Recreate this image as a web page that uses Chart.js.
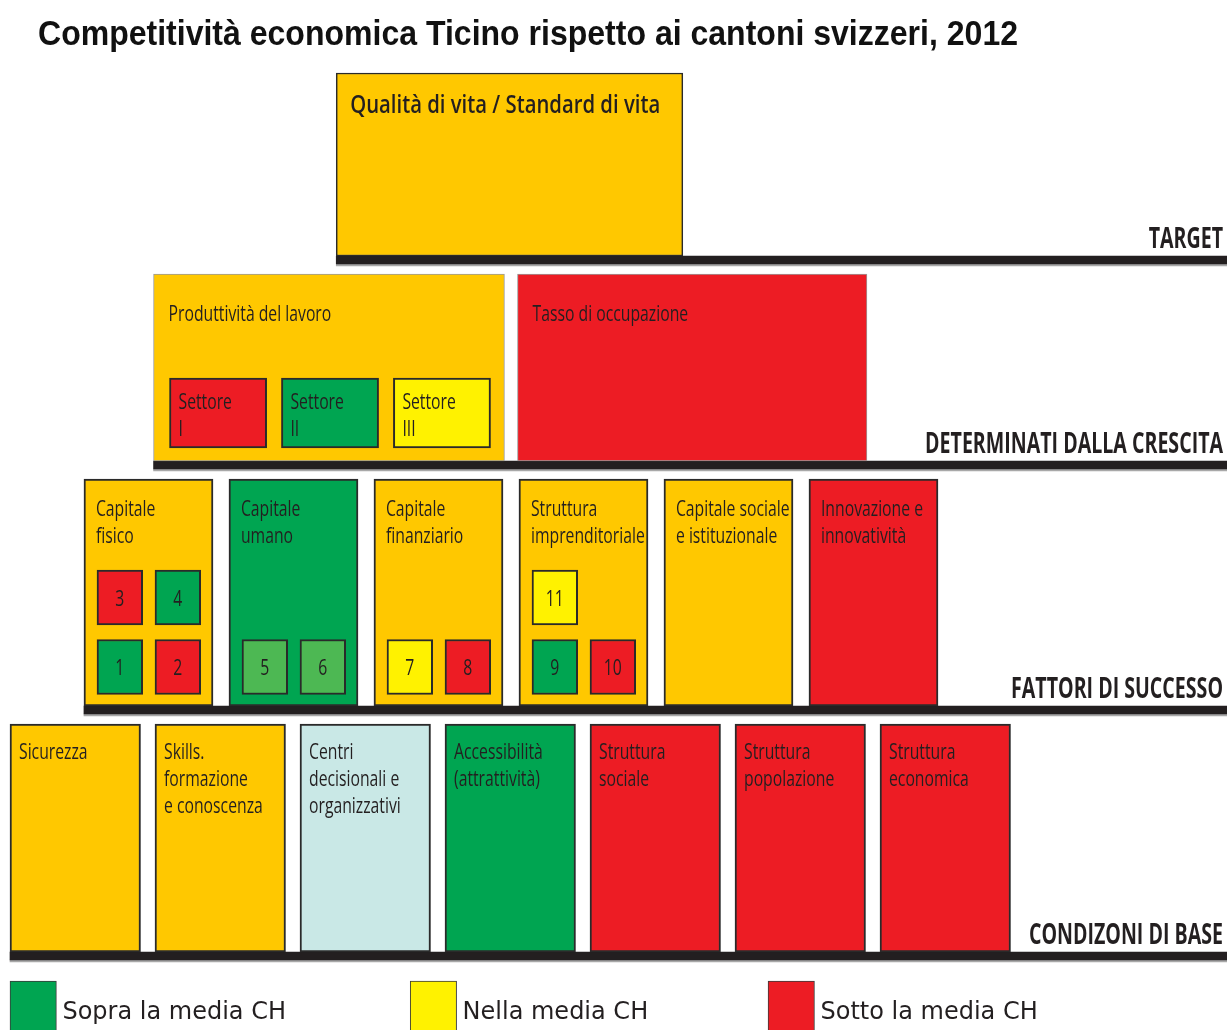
<!DOCTYPE html>
<html><head><meta charset="utf-8">
<script src="https://cdn.jsdelivr.net/npm/chart.js@4.4.1/dist/chart.umd.min.js"></script>
<style>html,body{margin:0;padding:0;background:#fff}#wrap{width:1227px;height:1030px;position:relative}</style>
</head><body><div id="wrap"><canvas id="c"></canvas></div>
<script>
// ---------------- DATA ----------------
const chartTitle = 'Competitività economica Ticino rispetto ai cantoni svizzeri, 2012';
const levelNames = ['TARGET', 'DETERMINATI DALLA CRESCITA', 'FATTORI DI SUCCESSO', 'CONDIZONI DI BASE'];
const targetLabels = [['Qualità di vita / Standard di vita']];
const targetStatus = ['aggregato'];
const growthLabels = [['Produttività del lavoro'], ['Tasso di occupazione']];
const growthStatus = ['aggregato', 'sotto'];
const sectorLabels = [['Settore', 'I'], ['Settore', 'II'], ['Settore', 'III']];
const sectorStatus = ['sotto', 'sopra', 'nella'];
const factorLabels = [['Capitale', 'fisico'], ['Capitale', 'umano'], ['Capitale', 'finanziario'],
  ['Struttura', 'imprenditoriale'], ['Capitale sociale', 'e istituzionale'], ['Innovazione e', 'innovatività']];
const factorStatus = ['aggregato', 'sopra', 'aggregato', 'aggregato', 'aggregato', 'sotto'];
const indicatorIds = ['1', '2', '3', '4', '5', '6', '7', '8', '9', '10', '11'];
const indicatorStatus = ['sopra', 'sotto', 'sotto', 'sopra', 'sopraChiaro', 'sopraChiaro', 'nella', 'sotto', 'sopra', 'sotto', 'nella'];
const indicatorFactor = [0, 0, 0, 0, 1, 1, 2, 2, 3, 3, 3];
const baseLabels = [['Sicurezza'], ['Skills.', 'formazione', 'e conoscenza'], ['Centri', 'decisionali e', 'organizzativi'],
  ['Accessibilità', '(attrattività)'], ['Struttura', 'sociale'], ['Struttura', 'popolazione'], ['Struttura', 'economica']];
const baseStatus = ['aggregato', 'aggregato', 'nd', 'sopra', 'sotto', 'sotto', 'sotto'];
const legendLabels = ['Sopra la media CH', 'Nella media CH', 'Sotto la media CH'];
const legendStatus = ['sopra', 'nella', 'sotto'];

// ---------------- STYLE ----------------
const statusColors = {
  aggregato: '#FFC800', sopra: '#00A551', sopraChiaro: '#4DB853', nella: '#FFF200',
  sotto: '#ED1C24', nd: '#C9E8E6'
};
const INK = '#231F20';

// ---------------- LAYOUT (slot units on x, layout units on y) ----------------
const PITCH = 145, ORIGIN = 10, W = 1227, H = 1030;
const X_MIN = -ORIGIN / PITCH, X_MAX = (W - ORIGIN) / PITCH;
const bands = { target: [73, 256], growth: [274, 461], sector: [378, 448], factor: [479, 706], base: [724, 952], legend: [981, 1040] };
const indicatorRowBand = [[570, 625], [640, 694]];
const lineBands = [[256, 264], [461, 469], [706, 714], [952, 960]];
const targetSpan = [[2.25, 4.64]];
const growthSpan = [[0.99, 3.41], [3.5, 5.91]];
const sectorStart = 1.1, sectorPitch = 0.772, sectorWidth = 0.67;
const factorStart = 0.51, factorWidth = 0.89;
const baseStart = 0, baseWidth = 0.9;
const indicatorCol = [0, 1, 0, 1, 0, 1, 0, 1, 0, 1, 0];
const indicatorRow = [1, 1, 0, 0, 1, 1, 1, 1, 1, 1, 0];
const indicatorColOffset = [0.09, 0.49], indicatorWidth = 0.315;
const legendStart = [0, 2.76, 5.228], legendWidth = 0.32;

const mid = b => (b[0] + b[1]) / 2;
const th = b => b[1] - b[0];

const targetSpans = targetSpan;
const growthSpans = growthSpan;
const sectorSpans = sectorLabels.map((_, i) => [sectorStart + i * sectorPitch, sectorStart + i * sectorPitch + sectorWidth]);
const factorSpans = factorLabels.map((_, i) => [factorStart + i, factorStart + i + factorWidth]);
const baseSpans = baseLabels.map((_, i) => [baseStart + i, baseStart + i + baseWidth]);
const indicatorSpans = indicatorIds.map((_, i) => {
  const s = factorSpans[indicatorFactor[i]][0] + indicatorColOffset[indicatorCol[i]];
  return [s, s + indicatorWidth];
});
const legendSpans = legendStart.map(s => [s, s + legendWidth]);
const lineStarts = [targetSpans[0][0], growthSpans[0][0], factorSpans[0][0], baseSpans[0][0]];

function boxDataset(label, spans, yBand, statuses, opts) {
  return Object.assign({
    label,
    data: spans.map(s => ({ x: s, y: mid(yBand) })),
    backgroundColor: statuses.map(s => statusColors[s]),
    barThickness: th(yBand),
    borderSkipped: false,
    borderWidth: 2,
    borderColor: '#2A2A2A',
    order: 1
  }, opts || {});
}

const datasets = [
  boxDataset('indicatori', indicatorSpans, [0, 0], indicatorStatus, { order: 0, barThickness: th(indicatorRowBand[0]),
    data: indicatorSpans.map((s, i) => ({ x: s, y: mid(indicatorRowBand[indicatorRow[i]]) })) }),
  boxDataset('settori', sectorSpans, bands.sector, sectorStatus, { order: 0 }),
  boxDataset('target', targetSpans, bands.target, targetStatus, { borderWidth: 1.5 }),
  boxDataset('determinanti', growthSpans, bands.growth, growthStatus, { borderWidth: 1, borderColor: '#9A9A9A' }),
  boxDataset('fattori', factorSpans, bands.factor, factorStatus),
  boxDataset('condizioni', baseSpans, bands.base, baseStatus),
  boxDataset('legenda', legendSpans, bands.legend, legendStatus, { borderWidth: 1, borderColor: '#3A3A3A' }),
  {
    label: 'livelli', order: 2, borderWidth: 0, barThickness: 8, backgroundColor: INK,
    data: lineBands.map((b, i) => ({ x: [lineStarts[i], X_MAX], y: mid(b) }))
  },
  {
    label: 'ombra', order: 3, borderWidth: 0, barThickness: 2, backgroundColor: '#A8A8A8',
    data: lineBands.map((b, i) => ({ x: [lineStarts[i], X_MAX], y: b[1] + 1 }))
  }
];

function drawText(ctx, text, x, y, font, cf, color, align) {
  ctx.save();
  ctx.font = font;
  ctx.fillStyle = color;
  ctx.textBaseline = 'alphabetic';
  ctx.textAlign = 'left';
  const w = ctx.measureText(text).width * cf;
  const x0 = align === 'right' ? x - w : align === 'center' ? x - w / 2 : x;
  ctx.translate(x0, y);
  ctx.scale(cf, 1);
  ctx.fillText(text, 0, 0);
  ctx.restore();
}

const BOX_FONT = '400 21px "Open Sans"';
const CF = 0.75;

const labelPlugin = {
  id: 'labels',
  afterDraw(chart) {
    const ctx = chart.ctx, xs = chart.scales.x, ys = chart.scales.y;
    const px = v => xs.getPixelForValue(v), py = v => ys.getPixelForValue(v);
    const block = (labels, spans, topOf, dx, dy, font, cf, lh) => {
      labels.forEach((lines, i) => {
        const left = px(spans[i][0]), top = py(topOf(i));
        lines.forEach((t, j) => drawText(ctx, t, left + dx, top + dy + j * lh, font, cf, INK, 'left'));
      });
    };
    // title
    ctx.save(); ctx.font = '700 35px "Liberation Sans"';
    const tw = ctx.measureText(chartTitle).width; ctx.restore();
    drawText(ctx, chartTitle, 38, 45, '700 35px "Liberation Sans"', 980 / tw, '#111', 'left');

    block(targetLabels, targetSpans, () => bands.target[0], 14, 40, '600 26px "Open Sans"', 0.78, 27);
    block(growthLabels, growthSpans, () => bands.growth[0], 15, 47, BOX_FONT, CF, 27);
    block(sectorLabels, sectorSpans, () => bands.sector[0], 9, 31, BOX_FONT, CF, 27);
    block(factorLabels, factorSpans, () => bands.factor[0], 12, 37, BOX_FONT, CF, 27);
    block(baseLabels, baseSpans, () => bands.base[0], 9, 35, BOX_FONT, CF, 27);

    indicatorIds.forEach((t, i) => {
      const cx = px(mid(indicatorSpans[i])), cy = py(mid(indicatorRowBand[indicatorRow[i]]));
      drawText(ctx, t, cx, cy + 8, BOX_FONT, CF, INK, 'center');
    });

    levelNames.forEach((t, i) => {
      drawText(ctx, t, px(X_MAX) - 4, py(lineBands[i][0]) - 8, '700 28px "Open Sans"', 0.7, INK, 'right');
    });

    legendLabels.forEach((t, i) => {
      drawText(ctx, t, px(legendSpans[i][1]) + 6, 1019, '400 24px "DejaVu Sans"', 1.0, INK, 'left');
    });
  }
};

new Chart(document.getElementById('c'), {
  type: 'bar',
  data: { datasets },
  options: {
    indexAxis: 'y',
    responsive: true,
    maintainAspectRatio: false,
    animation: false,
    layout: { padding: 0 },
    datasets: { bar: { grouped: false } },
    scales: {
      x: { type: 'linear', min: X_MIN, max: X_MAX, display: false, offset: false },
      y: { type: 'linear', min: 0, max: H, reverse: true, display: false, offset: false }
    },
    plugins: { legend: { display: false }, tooltip: { enabled: false }, title: { display: false } }
  },
  plugins: [labelPlugin]
});
</script>
</body></html>
